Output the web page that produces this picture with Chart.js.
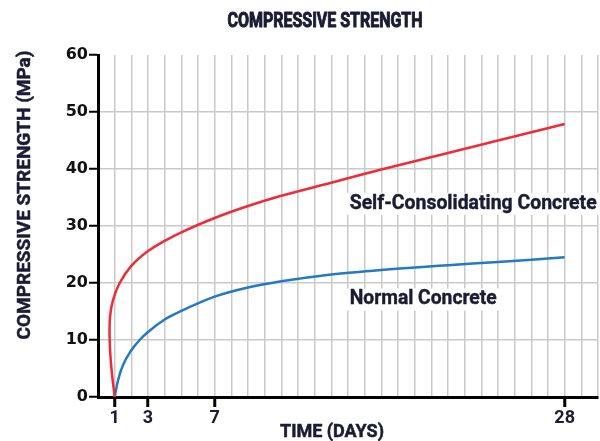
<!DOCTYPE html>
<html>
<head>
<meta charset="utf-8">
<script src="https://cdn.jsdelivr.net/npm/chart.js@4/dist/chart.umd.min.js"></script>
<style>
  html, body { margin: 0; padding: 0; background: #fff; }
</style>
</head>
<body>
<canvas id="chart" width="600" height="441"></canvas>
<script>
// values
const sccDays     = [1, 0.8, 0.7, 0.72, 0.9, 1.3, 2, 3, 4, 5, 7, 9, 11, 14, 17, 21, 24, 28];
const sccStrength = [0, 5.2, 10, 14, 17, 20, 23, 25.6, 27.4, 28.9, 31.4, 33.5, 35.3, 37.6, 39.9, 42.8, 45.0, 47.9];
const ncDays      = [1, 1.2, 1.5, 2, 2.5, 3, 4, 5, 7, 9, 11, 14, 17, 21, 24, 28];
const ncStrength  = [0, 2.9, 5.6, 8.2, 10.0, 11.4, 13.6, 15.1, 17.6, 19.2, 20.3, 21.5, 22.3, 23.1, 23.7, 24.5];
const dayLabels   = [1, 3, 7, 28];
const seriesNames = ['Self-Consolidating Concrete', 'Normal Concrete'];

const toPoints = (xs, ys) => xs.map((x, i) => ({ x: x, y: ys[i] }));

const textColor = '#1b1b33';

// draw text a little heavier, like the condensed bold face in the original
function heavyText(ctx, text, x, y, maxWidth, weight) {
  ctx.lineWidth = weight;
  ctx.strokeStyle = ctx.fillStyle;
  ctx.lineJoin = 'round';
  ctx.strokeText(text, x, y, maxWidth);
  ctx.fillText(text, x, y, maxWidth);
}

const annotations = {
  id: 'annotations',
  afterDraw(chart) {
    const ctx = chart.ctx;
    const x = chart.scales.x, y = chart.scales.y;
    ctx.save();
    ctx.fillStyle = textColor;
    ctx.textAlign = 'center';
    ctx.textBaseline = 'middle';

    ctx.font = 'bold 20px Roboto';
    heavyText(ctx, 'COMPRESSIVE STRENGTH', 325, 22, 195, 1);

    ctx.font = 'bold 18px Roboto';
    heavyText(ctx, 'TIME (DAYS)', 332, 432, 106, 0.5);

    ctx.save();
    ctx.translate(25, 195);
    ctx.rotate(-Math.PI / 2);
    ctx.font = 'bold 19px Roboto';
    heavyText(ctx, 'COMPRESSIVE STRENGTH (MPa)', 0, 0, 290, 0.5);
    ctx.restore();

    // series labels with white boxes behind them
    ctx.textAlign = 'left';
    ctx.font = 'bold 19.5px Roboto';
    const labels = [
      { text: seriesNames[0], day: 15.1, mpa: 33.9, w: 247 },
      { text: seriesNames[1], day: 15.1, mpa: 17.1, w: 147 }
    ];
    labels.forEach(l => {
      const px = x.getPixelForValue(l.day);
      const py = y.getPixelForValue(l.mpa);
      ctx.fillStyle = '#fff';
      ctx.fillRect(px - 3, py - 11, l.w + 6, 22);
      ctx.fillStyle = textColor;
      heavyText(ctx, l.text, px, py, l.w, 0.4);
    });
    ctx.restore();
  }
};

new Chart(document.getElementById('chart'), {
  type: 'line',
  data: {
    datasets: [
      {
        label: seriesNames[0],
        data: toPoints(sccDays, sccStrength),
        borderColor: '#ee2b36',
        borderWidth: 2.5,
        pointRadius: 0,
        tension: 0.4,
        fill: false
      },
      {
        label: seriesNames[1],
        data: toPoints(ncDays, ncStrength),
        borderColor: '#2379c3',
        borderWidth: 2.5,
        pointRadius: 0,
        cubicInterpolationMode: 'monotone',
        fill: false
      }
    ]
  },
  options: {
    responsive: false,
    animation: false,
    layout: { padding: { top: 55, right: 2, left: 0, bottom: 0 } },
    plugins: {
      legend: { display: false },
      title: { display: false },
      tooltip: { enabled: false }
    },
    scales: {
      x: {
        type: 'linear',
        min: 0,
        max: 30,
        afterFit(scale) { scale.height = 44; },
        border: { color: '#000', width: 3 },
        grid: {
          color: ctx => (ctx.tick && ctx.tick.value === 0) ? 'rgba(0,0,0,0)' : '#c9c9c9',
          lineWidth: 1.5,
          tickLength: 10,
          tickWidth: 3,
          tickColor: ctx => (ctx.tick && dayLabels.includes(ctx.tick.value)) ? '#000' : 'rgba(0,0,0,0)'
        },
        ticks: {
          stepSize: 1,
          autoSkip: false,
          maxRotation: 0,
          padding: 1,
          color: textColor,
          font: { family: 'Roboto', weight: 'bold', size: 18 },
          callback: v => dayLabels.includes(v) ? String(v) : ''
        }
      },
      y: {
        min: 0,
        max: 60,
        afterFit(scale) { scale.width = 98; },
        border: { color: '#000', width: 3 },
        grid: {
          color: ctx => (ctx.tick && (ctx.tick.value === 0 || ctx.tick.value === 60)) ? 'rgba(0,0,0,0)' : '#c9c9c9',
          lineWidth: 1.5,
          tickLength: 9,
          tickWidth: 2,
          tickColor: '#000'
        },
        ticks: {
          stepSize: 10,
          padding: 1,
          color: '#111',
          font: { family: 'DejaVu Sans', weight: 'bold', size: 16 }
        }
      }
    }
  },
  plugins: [annotations]
});
</script>
</body>
</html>
